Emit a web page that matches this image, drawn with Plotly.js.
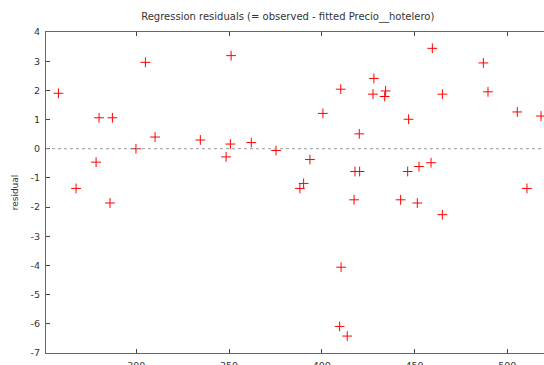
<!DOCTYPE html>
<html>
<head>
<meta charset="utf-8">
<script src="https://cdn.plot.ly/plotly-3.0.1.min.js"></script>
<style>html,body{margin:0;padding:0;background:#fff;}#chart{width:544px;height:365px;}</style>
</head>
<body>
<div id="chart"></div>
<script>
// fitted values (x) and residuals (y)
const fitted = [258.0, 267.5, 278.3, 279.9, 287.1, 285.8, 299.8, 304.9, 310.1,
  334.5, 348.4, 351.1, 350.7, 362.0, 375.3, 388.2, 390.2, 393.6, 400.6, 410.2, 410.4, 409.6, 413.7,
  417.4, 417.9, 420.4, 420.2, 427.6, 428.1, 433.9, 434.4, 446.8, 446.3, 442.5, 451.5, 452.4, 458.9,
  459.6, 465.0, 465.0, 487.1, 489.6, 505.4, 510.6, 518.2];
const residual = [1.90, -1.36, -0.46, 1.06, 1.06, -1.86, 0.00, 2.96, 0.40,
  0.30, -0.28, 3.19, 0.16, 0.21, -0.06, -1.36, -1.19, -0.37, 1.21, 2.04, -4.06, -6.09, -6.42,
  -1.75, -0.78, -0.78, 0.51, 1.87, 2.41, 1.79, 1.98, 1.01, -0.78, -1.75, -1.86, -0.61, -0.48,
  3.44, 1.87, -2.26, 2.94, 1.95, 1.26, -1.36, 1.12];
const xTicks = [300, 350, 400, 450, 500];
const yTicks = [-7, -6, -5, -4, -3, -2, -1, 0, 1, 2, 3, 4];
const titleText = "Regression residuals (= observed - fitted Precio__hotelero)";
const yLabel = "residual";

const font = "DejaVu Sans, Verdana, sans-serif";
const trace = {
  x: fitted, y: residual, type: "scatter", mode: "markers",
  marker: {symbol: "cross-thin-open", size: 7, color: "#ff0000", line: {color: "#ff0000", width: 1}},
  hoverinfo: "skip", showlegend: false
};
const layout = {
  width: 544, height: 365,
  margin: {l: 46, r: 0, t: 32, b: 12, pad: 0},
  paper_bgcolor: "#ffffff", plot_bgcolor: "#ffffff",
  font: {family: font, size: 9, color: "#333333"},
  title: {text: titleText, font: {family: font, size: 10, color: "#333333"},
          xref: "container", x: 0.529, xanchor: "center", yref: "container", y: 0.955, yanchor: "middle"},
  xaxis: {range: [251.3, 519.8], tickmode: "array", tickvals: xTicks, ticktext: xTicks.map(String),
          ticks: "inside", ticklen: 4, tickcolor: "#444", showline: true, linecolor: "#666", linewidth: 1,
          mirror: "allticks", showgrid: false, zeroline: false, fixedrange: true, ticklabelstandoff: 4,
          tickfont: {family: font, size: 9.5, color: "#333"}},
  yaxis: {range: [-7, 4], tickmode: "array", tickvals: yTicks, ticktext: yTicks.map(String),
          ticks: "inside", ticklen: 4, tickcolor: "#444", showline: true, linecolor: "#666", linewidth: 1,
          showgrid: false, zeroline: false, fixedrange: true, ticklabelstandoff: 3,
          title: {text: yLabel, font: {family: font, size: 9, color: "#333"}, standoff: 10},
          tickfont: {family: font, size: 9.5, color: "#333"}},
  shapes: [{type: "line", xref: "paper", x0: 0, x1: 1, yref: "y", y0: 0, y1: 0,
            line: {color: "#999", width: 1, dash: "dot"}}]
};
Plotly.newPlot("chart", [trace], layout, {displayModeBar: false, staticPlot: true});
</script>
</body>
</html>
